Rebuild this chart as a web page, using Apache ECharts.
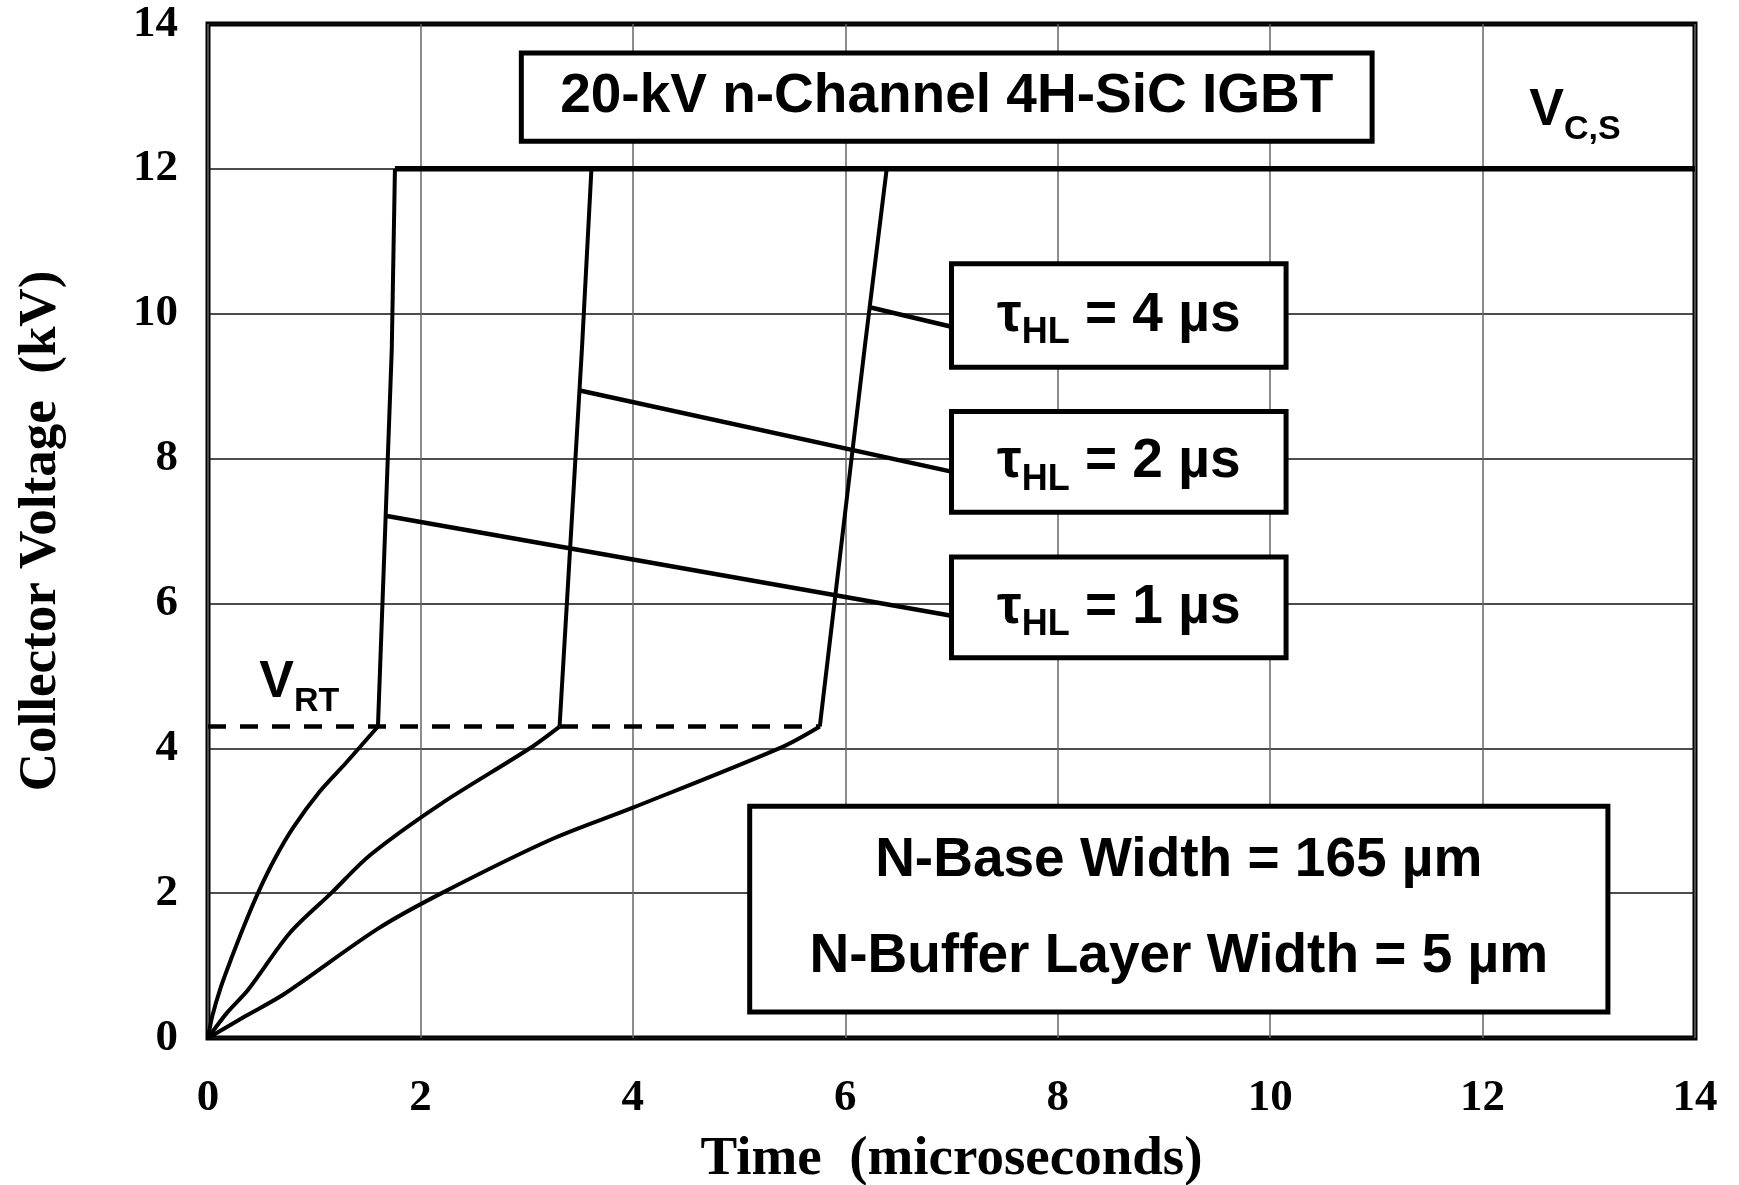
<!DOCTYPE html>
<html>
<head>
<meta charset="utf-8">
<script src="https://cdn.jsdelivr.net/npm/echarts@6/dist/echarts.min.js"></script>
<style>
  html, body { margin: 0; padding: 0; background: #fff; }
  #chart { width: 1739px; height: 1185px; }
</style>
</head>
<body>
<div id="chart"></div>
<script>
// Axis ticks (kV and microseconds)
const xTicks = [0, 2, 4, 6, 8, 10, 12, 14];
const yTicks = [0, 2, 4, 6, 8, 10, 12, 14];

// Turn-off collector voltage transients: [time (us), voltage (kV)]
// Each lifetime has a slow rise up to the reach-through voltage, then a fast jump to the supply level.
const tau1Rise = [[0, 0], [0.04, 0.3], [0.12, 0.7], [0.22, 1.1], [0.34, 1.55], [0.47, 2.0], [0.62, 2.45], [0.8, 2.9], [1.05, 3.4], [1.3, 3.8], [1.60, 4.3]];
const tau1Jump = [[1.60, 4.3], [1.73, 9.5], [1.76, 12]];
const tau2Rise = [[0, 0], [0.18, 0.35], [0.38, 0.67], [0.77, 1.45], [1.16, 2.0], [1.53, 2.53], [2.19, 3.23], [3.03, 4.0], [3.31, 4.3]];
const tau2Jump = [[3.31, 4.3], [3.52, 9.5], [3.61, 12]];
const tau4Rise = [[0, 0], [0.35, 0.3], [0.71, 0.6], [1.59, 1.5], [2.2, 2.0], [3.23, 2.74], [4.0, 3.18], [5.41, 4.02], [5.76, 4.3]];
const tau4Jump = [[5.76, 4.3], [6.18, 9.5], [6.39, 12]];

// Supply voltage V_C,S and reach-through voltage V_RT
const vcsLevel = [[1.76, 12], [14, 12]];
const vrtLevel = [[0, 4.3], [5.76, 4.3]];

// Leader lines from each curve to its lifetime label
const leaderTau4 = [[6.23, 10.09], [7.0, 9.82]];
const leaderTau2 = [[3.50, 8.94], [7.0, 7.82]];
const leaderTau1 = [[1.67, 7.21], [7.0, 5.83]];

// Label texts
const titleText = '20-kV n-Channel 4H-SiC IGBT';
const tauLabels = ['4', '2', '1'];
const baseLines = ['N-Base Width = 165 \u00b5m', 'N-Buffer Layer Width = 5 \u00b5m'];

const SERIF = 'Liberation Serif, Times New Roman, serif';
const SANS = 'Liberation Sans, Arial, Helvetica, sans-serif';

const chart = echarts.init(document.getElementById('chart'), null, { renderer: 'canvas' });

function curve(data, extra) {
  return Object.assign({
    type: 'line', data: data, showSymbol: false, symbol: 'none',
    lineStyle: { color: '#000', width: 4 }, animation: false, z: 5
  }, extra || {});
}

const option = {
  backgroundColor: '#fff',
  animation: false,
  grid: {
    left: 208, right: 44, top: 24, bottom: 147,
    containLabel: false, outerBoundsMode: 'none',
    show: true, borderColor: '#000', borderWidth: 5, backgroundColor: '#fff'
  },
  xAxis: {
    type: 'value', min: 0, max: 14, interval: 2,
    name: 'Time  (microseconds)', nameLocation: 'middle', nameGap: 94,
    nameTextStyle: { fontFamily: SERIF, fontWeight: 'bold', fontSize: 55, color: '#000' },
    axisLine: { show: false }, axisTick: { show: false },
    axisLabel: {
      margin: 38, fontFamily: SERIF, fontWeight: 'bold', fontSize: 45, color: '#000',
      showMinLabel: true, showMaxLabel: true,
      formatter: v => (xTicks.indexOf(v) >= 0 ? String(v) : '')
    },
    splitLine: { show: true, lineStyle: { color: '#666', width: 1.5 } }
  },
  yAxis: {
    type: 'value', min: 0, max: 14, interval: 2,
    name: 'Collector Voltage  (kV)', nameLocation: 'middle', nameGap: 140, nameRotate: 90,
    nameTextStyle: { fontFamily: SERIF, fontWeight: 'bold', fontSize: 53, color: '#000' },
    axisLine: { show: false }, axisTick: { show: false },
    axisLabel: {
      margin: 30, fontFamily: SERIF, fontWeight: 'bold', fontSize: 45, color: '#000',
      showMinLabel: true, showMaxLabel: true,
      formatter: v => (yTicks.indexOf(v) >= 0 ? String(v) : '')
    },
    splitLine: { show: true, lineStyle: { color: '#111', width: 1.5 } }
  },
  series: [
    curve(tau1Rise, { smooth: 0.3 }),
    curve(tau1Jump),
    curve(tau2Rise, { smooth: 0.3 }),
    curve(tau2Jump),
    curve(tau4Rise, { smooth: 0.3 }),
    curve(tau4Jump),
    curve(vcsLevel, { lineStyle: { color: '#000', width: 5.5 } }),
    curve(vrtLevel, { lineStyle: { color: '#000', width: 4.5, type: [18, 14] } }),
    curve(leaderTau4, { lineStyle: { color: '#000', width: 4.5 } }),
    curve(leaderTau2, { lineStyle: { color: '#000', width: 4.5 } }),
    curve(leaderTau1, { lineStyle: { color: '#000', width: 4.5 } })
  ]
};
chart.setOption(option);

// Annotation boxes, placed in data space and converted to pixels
const px = (x, y) => chart.convertToPixel({ gridIndex: 0 }, [x, y]);

function framedBox(x0, yTop, x1, yBottom) {
  const a = px(x0, yTop), b = px(x1, yBottom);
  return {
    type: 'rect', z: 100,
    shape: { x: a[0], y: a[1], width: b[0] - a[0], height: b[1] - a[1] },
    style: { fill: '#fff', stroke: '#000', lineWidth: 5 }
  };
}

function label(x, y, text, rich, extra) {
  const p = px(x, y);
  return {
    type: 'text', z: 101, x: p[0], y: p[1],
    style: Object.assign({
      text: text, rich: rich || {}, fill: '#000',
      fontFamily: SANS, fontWeight: 'bold', fontSize: 55,
      align: 'center', verticalAlign: 'middle'
    }, extra || {})
  };
}

const subRich = (mainSize, subSize) => ({
  m: { fontFamily: SANS, fontWeight: 'bold', fontSize: mainSize, lineHeight: 72, verticalAlign: 'middle', fill: '#000' },
  s: { fontFamily: SANS, fontWeight: 'bold', fontSize: subSize, lineHeight: 30, verticalAlign: 'bottom', fill: '#000' }
});

const tauBoxes = [[10.69, 9.26], [8.65, 7.26], [6.64, 5.25]];
const graphics = [];

// Device title
graphics.push(framedBox(2.95, 13.6, 10.96, 12.38));
graphics.push(label(6.955, 13.0, titleText));

// Supply-voltage and reach-through labels
graphics.push(label(12.87, 12.8, '{m|V}{s|C,S}', subRich(52, 34)));
graphics.push(label(0.86, 4.9, '{m|V}{s|RT}', subRich(52, 34)));

// Lifetime labels
tauBoxes.forEach((b, i) => {
  graphics.push(framedBox(7.0, b[0], 10.15, b[1]));
  graphics.push(label(8.575, (b[0] + b[1]) / 2,
    '{m|\u03c4}{s|HL}{m| = ' + tauLabels[i] + ' \u00b5s}', subRich(55, 36)));
});

// Structure parameters
graphics.push(framedBox(5.1, 3.2, 13.18, 0.36));
graphics.push(label(9.14, 2.45, baseLines[0]));
graphics.push(label(9.14, 1.12, baseLines[1]));

chart.setOption({ graphic: graphics });
</script>
</body>
</html>
